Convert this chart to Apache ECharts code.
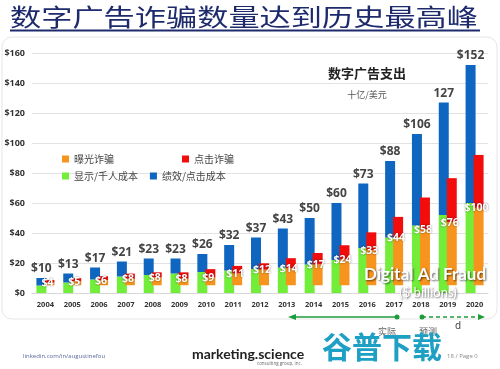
<!DOCTYPE html>
<html><head><meta charset="utf-8">
<script src="https://cdn.jsdelivr.net/npm/echarts@6/dist/echarts.min.js"></script>
<style>html,body{margin:0;padding:0;background:#fff}#c{width:500px;height:369px}</style>
</head><body><div id="c"></div>
<script>
const years = ['2004','2005','2006','2007','2008','2009','2010','2011','2012','2013','2014','2015','2016','2017','2018','2019','2020'];
const spendLabels = ['$10','$13','$17','$21','$23','$23','$26','$32','$37','$43','$50','$60','$73','$88','$106','127','$152'];
const displayCPM = [5,7,9,11,12,13,14,15,16,17,19,22,30,37,45,52,60];
const performanceCPC = [5,6,8,10,11,10,12,17,21,26,31,38,43,51,61,75,92];
const impressionFraud = [2,3,4,5,6,5,6,9,12,13,16,20,27,37,43,49,60];
const clickFraud = [2,2.5,3,4,4,5,6.5,6,5,8,9,11,14,16,25,34,41];
const fraudLabels = ['$4','$5','$6','$8','$8','$8','$9','$11','$12','$14','$17','$24','$33','$44','$58','$76','$100'];
const seriesNames = ['曝光诈骗','点击诈骗','显示/千人成本','绩效/点击成本'];

const C = {orange:'#f7941e', red:'#f20c0c', green:'#72ee3a', blue:'#0e66c0'};
const chart = echarts.init(document.getElementById('c'), null, {renderer:'canvas'});
const legendText = {fontSize:10, color:'#444', fontFamily:'"Noto Sans CJK SC"'};
chart.setOption({
  backgroundColor:'#fff',
  animation:false,
  grid:{left:32, right:12, top:53, bottom:76},
  legend:[
    {data:[seriesNames[0], seriesNames[1]], left:57, top:149, itemWidth:7, itemHeight:7, itemGap:68, textStyle:legendText, icon:'rect'},
    {data:[seriesNames[2], seriesNames[3]], left:57, top:166, itemWidth:7, itemHeight:7, itemGap:12, textStyle:legendText, icon:'rect'}
  ],
  xAxis:{type:'category', data:years,
    axisLine:{show:true, lineStyle:{color:'#d8d8d8'}}, axisTick:{show:false},
    axisLabel:{color:'#333', fontWeight:'bold', fontSize:7.5, fontFamily:'"Open Sans"', margin:8, interval:0}},
  yAxis:[
    {type:'value', min:0, max:160, interval:20,
      axisLabel:{formatter:v=>'$'+v, color:'#333', fontWeight:'bold', fontSize:9, fontFamily:'"Open Sans"', margin:7},
      splitLine:{lineStyle:{color:'#e2e2e2'}}, axisLine:{show:false}, axisTick:{show:false}},
    {type:'value', min:-6, max:180, show:false, splitLine:{show:false}}
  ],
  series:[
    {name:seriesNames[2], type:'bar', stack:'spend', data:displayCPM, barWidth:10, barGap:'-20%', z:2, itemStyle:{color:C.green}},
    {name:seriesNames[3], type:'bar', stack:'spend', data:performanceCPC, barWidth:10, barGap:'-20%', z:2, itemStyle:{color:C.blue},
      label:{show:true, position:'top', distance:3, formatter:p=>spendLabels[p.dataIndex], color:'#444', fontWeight:'bold', fontSize:12, fontFamily:'"Open Sans"'}},
    {name:seriesNames[0], type:'bar', stack:'fraud', yAxisIndex:1, data:impressionFraud, barWidth:10, barGap:'-20%', z:3, itemStyle:{color:C.orange},
      label:{show:true, position:'top', distance:-6, offset:[-2,0], formatter:p=>fraudLabels[p.dataIndex], color:'#fff', fontWeight:'bold', fontSize:10.5, fontFamily:'"Open Sans"', textShadowColor:'rgba(0,0,0,0.55)', textShadowBlur:2}},
    {name:seriesNames[1], type:'bar', stack:'fraud', yAxisIndex:1, data:clickFraud, barWidth:10, barGap:'-20%', z:2, itemStyle:{color:C.red}}
  ],
  graphic:[
    {type:'rect', z:-10, shape:{x:2, y:37, width:495, height:282, r:10}, style:{fill:'none', stroke:'#e6e6e6', lineWidth:1}},
    {type:'text', x:10, y:5, scaleX:1.3, style:{text:'数字广告诈骗数量达到历史最高峰', font:'24px "Noto Sans CJK SC"', fill:'#1d2a6c', textVerticalAlign:'top'}},
    {type:'line', shape:{x1:10, y1:30.5, x2:480, y2:30.5}, style:{stroke:'#1d2a6c', lineWidth:2}},
    {type:'text', x:367, y:73, style:{text:'数字广告支出', font:'bold 13px "Noto Sans CJK SC"', fill:'#222', textAlign:'center', textVerticalAlign:'middle'}},
    {type:'text', x:367, y:95, style:{text:'十亿/美元', font:'9px "Noto Sans CJK SC"', fill:'#555', textAlign:'center', textVerticalAlign:'middle'}},
    {type:'text', z:100, x:425, y:275, style:{text:'Digital Ad Fraud', font:'bold 17px Lato', fill:'#fff', textAlign:'center', textVerticalAlign:'middle', textShadowColor:'rgba(0,0,0,0.6)', textShadowBlur:2, textShadowOffsetX:1, textShadowOffsetY:1}},
    {type:'text', z:100, x:428, y:293, style:{text:'($ billions)', font:'13px Lato', fill:'#fff', textAlign:'center', textVerticalAlign:'middle', textShadowColor:'rgba(0,0,0,0.6)', textShadowBlur:2, textShadowOffsetX:1, textShadowOffsetY:1}},
    {type:'line', shape:{x1:292, y1:317, x2:397, y2:317}, style:{stroke:'#1e9b3a', lineWidth:1.5}},
    {type:'polygon', shape:{points:[[288,317],[296,314],[296,320]]}, style:{fill:'#1e9b3a'}},
    {type:'circle', shape:{cx:397, cy:317, r:2.5}, style:{fill:'#1e9b3a'}},
    {type:'line', shape:{x1:422, y1:317, x2:480, y2:317}, style:{stroke:'#1e9b3a', lineWidth:1.5, lineDash:[4,3]}},
    {type:'circle', shape:{cx:422, cy:317, r:2.5}, style:{fill:'#1e9b3a'}},
    {type:'polygon', shape:{points:[[485,317],[478,314],[478,320]]}, style:{fill:'#1e9b3a'}},
    {type:'text', x:387, y:332, style:{text:'实际', font:'9px "Noto Sans CJK SC"', fill:'#666', textAlign:'center', textVerticalAlign:'middle'}},
    {type:'text', x:428, y:332, style:{text:'预测', font:'9px "Noto Sans CJK SC"', fill:'#666', textAlign:'center', textVerticalAlign:'middle'}},
    {type:'text', x:458, y:326, style:{text:'d', font:'10px "Open Sans"', fill:'#333', textAlign:'center', textVerticalAlign:'middle'}},
    {type:'text', x:23, y:356, style:{text:'linkedin.com/in/augustinefou', font:'6px "Open Sans"', fill:'#5a6a9a', textVerticalAlign:'middle'}},
    {type:'text', x:192, y:354, style:{text:'marketing.science', font:'bold 14px Lato', fill:'#222', textVerticalAlign:'middle'}},
    {type:'text', x:257, y:364, style:{text:'consulting group, inc.', font:'4.5px "Open Sans"', fill:'#666', textVerticalAlign:'middle'}},
    {type:'text', x:382, y:347, style:{text:'谷普下载', font:'bold 30px "Noto Sans CJK SC"', fill:'#1ea0c4', textAlign:'center', textVerticalAlign:'middle'}},
    {type:'text', x:447, y:356, style:{text:'18 / Page 0', font:'6px "Open Sans"', fill:'#888', textVerticalAlign:'middle'}}
  ]
});
</script></body></html>
